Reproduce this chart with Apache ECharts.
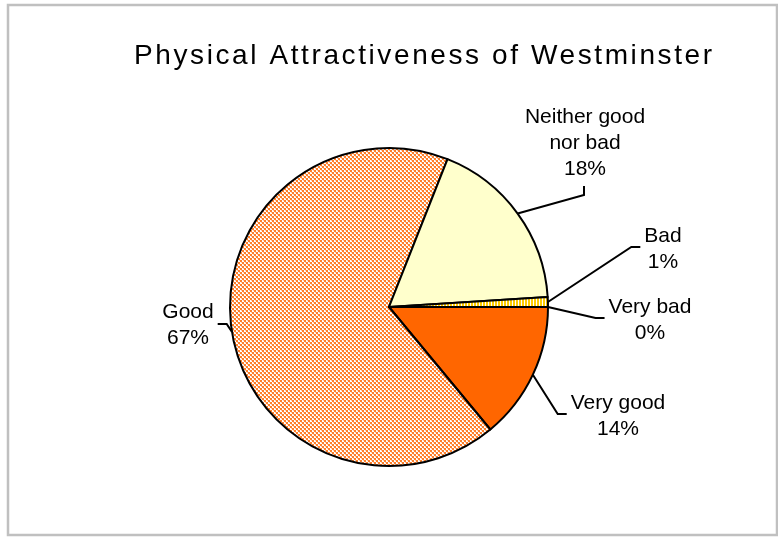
<!DOCTYPE html>
<html>
<head>
<meta charset="utf-8">
<script src="https://cdn.jsdelivr.net/npm/echarts@6/dist/echarts.min.js"></script>
<style>
  html, body { margin: 0; padding: 0; background: #ffffff; }
  #chart { width: 778px; height: 537px; }
</style>
</head>
<body>
<div id="chart"></div>
<script>
// Survey answers and their shares (per cent)
const titleText = 'Physical Attractiveness of Westminster';
const categories = ['Very good', 'Good', 'Neither good\nnor bad', 'Bad', 'Very bad'];
const shares = [14, 67, 18, 1, 0];

// Where each label sits and which side its leader line enters from
const labelSpots = [
  { x: 618, y: 416, side: 'left' },
  { x: 188, y: 325, side: 'right' },
  { x: 585, y: 143, side: 'bottom' },
  { x: 663, y: 249, side: 'left' },
  { x: 650, y: 320, side: 'left' }
];

// The title is set in widely tracked type; canvas letterSpacing supplies the tracking.
const TITLE_FONT = 'Liberation Sans';
const TITLE_TRACKING = '2.6px';
const baseFillText = CanvasRenderingContext2D.prototype.fillText;
CanvasRenderingContext2D.prototype.fillText = function (text, x, y, maxWidth) {
  const tracked = this.font.indexOf(TITLE_FONT) >= 0 && 'letterSpacing' in this;
  const prev = tracked ? this.letterSpacing : null;
  if (tracked) this.letterSpacing = TITLE_TRACKING;
  if (maxWidth === undefined) baseFillText.call(this, text, x, y);
  else baseFillText.call(this, text, x, y, maxWidth);
  if (tracked) this.letterSpacing = prev;
};

// Fill patterns
function makeTile(w, h, paint) {
  const c = document.createElement('canvas');
  c.width = w; c.height = h;
  const ctx = c.getContext('2d');
  paint(ctx);
  return c;
}
const dottedOrange = makeTile(4, 4, function (ctx) {
  ctx.fillStyle = '#ffffff'; ctx.fillRect(0, 0, 4, 4);
  ctx.fillStyle = '#ff7f2a';
  ctx.fillRect(0, 0, 2, 2);
  ctx.fillRect(2, 2, 2, 2);
  ctx.fillStyle = '#ffc9a3';
  ctx.fillRect(3, 0, 1, 1);
  ctx.fillRect(1, 2, 1, 1);
});
const yellowStripes = makeTile(3, 4, function (ctx) {
  ctx.fillStyle = '#ffffff'; ctx.fillRect(0, 0, 3, 4);
  ctx.fillStyle = '#ffcc00'; ctx.fillRect(0, 0, 2, 4);
});

const sliceFills = [
  '#ff6600',
  { image: dottedOrange, repeat: 'repeat' },
  '#ffffcc',
  { image: yellowStripes, repeat: 'repeat' },
  '#ff6600'
];

const chart = echarts.init(document.getElementById('chart'), null, { renderer: 'canvas' });

chart.setOption({
  animation: false,
  backgroundColor: '#ffffff',
  title: {
    text: titleText,
    left: 134,
    top: 42,
    padding: 0,
    textStyle: {
      fontFamily: TITLE_FONT,
      fontSize: 28,
      fontWeight: 'normal',
      color: '#000000'
    }
  },
  graphic: [{
    type: 'rect',
    shape: { x: 8, y: 5, width: 769, height: 530 },
    style: { fill: 'none', stroke: '#c0c0c0', lineWidth: 2.5 },
    silent: true
  }],
  series: [{
    type: 'pie',
    center: [389, 307],
    radius: 159,
    startAngle: 0,
    clockwise: true,
    avoidLabelOverlap: false,
    itemStyle: { borderColor: '#000000', borderWidth: 2 },
    label: {
      show: true,
      position: 'outside',
      formatter: function (p) { return p.name + '\n' + p.value + '%'; },
      fontFamily: 'Arial',
      fontSize: 21,
      lineHeight: 26,
      color: '#000000',
      align: 'center'
    },
    labelLine: {
      show: true,
      length: 10,
      length2: 9,
      lineStyle: { color: '#000000', width: 2 }
    },
    labelLayout: function (params) {
      const spot = labelSpots[params.dataIndex];
      const w = params.labelRect.width;
      const h = params.labelRect.height;
      const gap = 4, arm = 9;
      let end, elbow;
      if (spot.side === 'left') {
        end = [spot.x - w / 2 - gap, spot.y - 2];
        elbow = [end[0] - arm, end[1]];
      } else if (spot.side === 'right') {
        end = [spot.x + w / 2 + gap, spot.y - 1];
        elbow = [end[0] + arm, end[1]];
      } else {
        end = [spot.x - 1, spot.y + h / 2 + gap];
        elbow = [end[0], end[1] + arm];
      }
      const out = { x: spot.x, y: spot.y, align: 'center', verticalAlign: 'middle' };
      if (params.labelLinePoints && params.labelLinePoints[0]) {
        out.labelLinePoints = [params.labelLinePoints[0], elbow, end];
      }
      return out;
    },
    emphasis: { disabled: true },
    data: categories.map(function (name, i) {
      return { name: name, value: shares[i], itemStyle: { color: sliceFills[i] } };
    })
  }]
});
</script>
</body>
</html>
